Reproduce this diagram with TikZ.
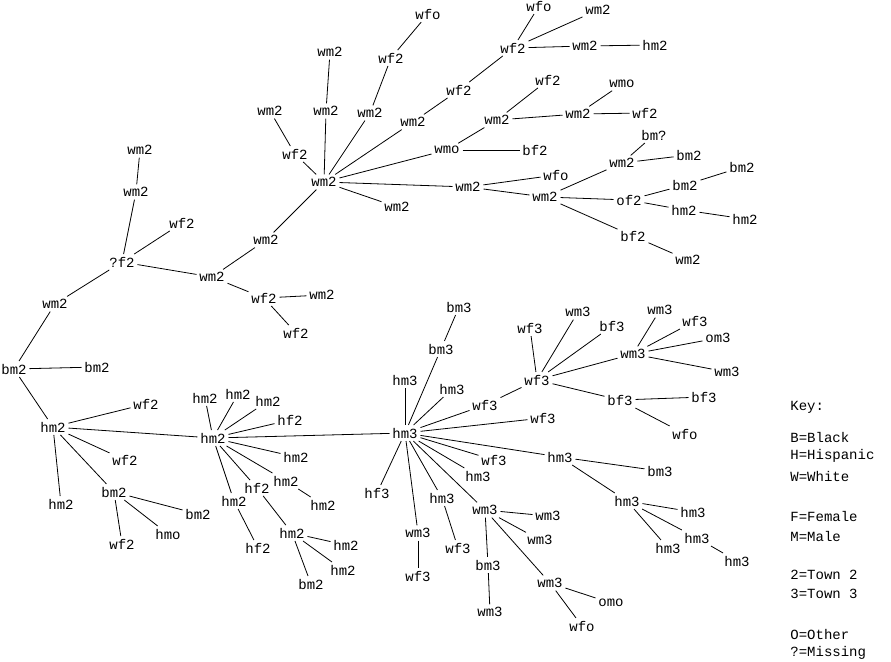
\documentclass[tikz,border=0pt]{standalone}
\usepackage{fontspec}
\setmonofont{Liberation Mono}
\begin{document}
\begin{tikzpicture}[x=1pt,y=-1pt,
  lab/.style={font=\ttfamily\fontsize{14}{14}\selectfont,inner sep=2.5pt},
  keyt/.style={font=\ttfamily\fontsize{14}{14}\selectfont,inner sep=0pt,anchor=west},
  every path/.style={line width=0.8pt}]
\useasboundingbox (0,0) rectangle (891,661);
\begin{scope}[every node/.style={lab}]
% top tree
\node (A1) at (428,14) {wfo};
\node (A2) at (391,58) {wf2};
\node (A3) at (330,52) {wm2};
\node (A4) at (326,111) {wm2};
\node (A5) at (370,113) {wm2};
\node (A6) at (270,111) {wm2};
\node (A7) at (295,154) {wf2};
\node (R) at (324,182) {wm2};
\node (A8) at (397,207) {wm2};
\node (A9) at (413,122) {wm2};
\node (A10) at (459,90) {wf2};
\node (A11) at (513,48) {wf2};
\node (A12) at (539,6) {wfo};
\node (A13) at (598,10) {wm2};
\node (A14) at (585,46) {wm2};
\node (A15) at (655,45) {hm2};
\node (A16) at (447,150) {wmo};
\node (A17) at (497,120) {wm2};
\node (A18) at (548,80) {wf2};
\node (A19) at (578,114) {wm2};
\node (A20) at (622,84) {wmo};
\node (A21) at (645,113) {wf2};
\node (A22) at (535,150) {bf2};
\node (A23) at (468,187) {wm2};
\node (A24) at (556,175) {wfo};
\node (A25) at (545,197) {wm2};
\node (A26) at (622,163) {wm2};
\node (A27) at (654,135) {bm?};
\node (A28) at (689,155) {bm2};
\node (A29) at (629,200) {of2};
\node (A30) at (685,185) {bm2};
\node (A31) at (742,167) {bm2};
\node (A32) at (684,210) {hm2};
\node (A33) at (745,219) {hm2};
\node (A34) at (633,236) {bf2};
\node (A35) at (688,260) {wm2};
\node (B1) at (266,240) {wm2};
\node (B2) at (212,277) {wm2};
\node (B3) at (264,298) {wf2};
\node (B4) at (322,295) {wm2};
\node (B5) at (296,333) {wf2};
\node (C) at (122,262) {?f2};
\node (C1) at (136,192) {wm2};
\node (C2) at (140,150) {wm2};
\node (C3) at (182,223) {wf2};
\node (C4) at (55,304) {wm2};
\node (D) at (14,369) {bm2};
\node (D1) at (97,367) {bm2};
\node (E) at (53,427) {hm2};
\node (E1) at (146,404) {wf2};
\node (E2) at (125,460) {wf2};
\node (E3) at (61,504) {hm2};
\node (E4) at (114,492) {bm2};
\node (E5) at (198,514) {bm2};
\node (E6) at (168,534) {hmo};
\node (E7) at (122,544) {wf2};
\node (F) at (213,438) {hm2};
\node (F1) at (205,398) {hm2};
\node (F2) at (238,394) {hm2};
\node (F3) at (268,401) {hm2};
\node (F4) at (290,420) {hf2};
\node (F5) at (296,457) {hm2};
\node (F6) at (286,481) {hm2};
\node (F7) at (323,505) {hm2};
\node (F8) at (257,488) {hf2};
\node (F9) at (292,533) {hm2};
\node (F10) at (346,545) {hm2};
\node (F11) at (343,570) {hm2};
\node (F12) at (311,584) {bm2};
\node (F13) at (234,501) {hm2};
\node (F14) at (258,548) {hf2};
\node (G) at (405,433) {hm3};
\node (G1) at (405,380) {hm3};
\node (G2) at (441,349) {bm3};
\node (G3) at (459,307) {bm3};
\node (G4) at (452,389) {hm3};
\node (G5) at (485,405) {wf3};
\node (G6) at (543,418) {wf3};
\node (G7) at (494,460) {wf3};
\node (G8) at (478,476) {hm3};
\node (G9) at (377,493) {hf3};
\node (G10) at (442,498) {hm3};
\node (G11) at (458,548) {wf3};
\node (G12) at (418,533) {wm3};
\node (G13) at (418,576) {wf3};
\node (G14) at (485,510) {wm3};
\node (G15) at (548,516) {wm3};
\node (G16) at (540,540) {wm3};
\node (G17) at (488,565) {bm3};
\node (G18) at (490,612) {wm3};
\node (G19) at (550,583) {wm3};
\node (G20) at (611,603) {omo};
\node (G21) at (582,626) {wfo};
\node (G22) at (560,457) {hm3};
\node (G23) at (660,471) {bm3};
\node (G24) at (627,501) {hm3};
\node (G25) at (693,512) {hm3};
\node (G26) at (668,548) {hm3};
\node (G27) at (697,538) {hm3};
\node (G28) at (737,561) {hm3};
\node (H) at (537,380) {wf3};
\node (H1) at (530,328) {wf3};
\node (H2) at (578,312) {wm3};
\node (H3) at (612,326) {bf3};
\node (H4) at (633,354) {wm3};
\node (H5) at (660,310) {wm3};
\node (H6) at (695,321) {wf3};
\node (H7) at (718,338) {om3};
\node (H8) at (727,372) {wm3};
\node (H9) at (620,400) {bf3};
\node (H10) at (704,397) {bf3};
\node (H11) at (685,434) {wfo};
\end{scope}
\foreach \a/\b in {R/A4,A4/A3,R/A5,A5/A2,A2/A1,R/A7,A7/A6,R/A9,A9/A10,A10/A11,A11/A12,A11/A13,A11/A14,A14/A15,
R/A16,A16/A17,A17/A18,A17/A19,A19/A20,A19/A21,A16/A22,R/A23,A23/A24,A23/A25,A25/A26,A26/A27,A26/A28,A25/A29,
A29/A30,A30/A31,A29/A32,A32/A33,A25/A34,A34/A35,R/A8,R/B1,B1/B2,B2/C,B2/B3,B3/B4,B3/B5,C/C1,C1/C2,C/C3,C/C4,C4/D,
D/D1,D/E,E/E1,E/E2,E/E3,E/E4,E4/E5,E4/E6,E4/E7,E/F,F/F1,F/F2,F/F3,F/F4,F/F5,F/F6,F6/F7,F/F8,F8/F9,F9/F10,F9/F11,F9/F12,
F/F13,F13/F14,F/G,G/G1,G/G2,G2/G3,G/G4,G/G5,G5/H,G/G6,G/G7,G/G8,G/G9,G/G10,G10/G11,G/G12,G12/G13,G/G14,G14/G15,G14/G16,
G14/G17,G17/G18,G14/G19,G19/G20,G19/G21,G/G22,G22/G23,G22/G24,G24/G25,G24/G26,G24/G27,G27/G28,
H/H1,H/H2,H/H3,H/H4,H4/H5,H4/H6,H4/H7,H4/H8,H/H9,H9/H10,H9/H11}
  \draw (\a) -- (\b);
\node[keyt] (k0) at (790,407) {Key:};
\node[keyt] (k1) at (790,437) {B=Black};
\node[keyt] (k2) at (790,456) {H=Hispanic};
\node[keyt] (k3) at (790,476) {W=White};
\node[keyt] (k4) at (790,516) {F=Female};
\node[keyt] (k5) at (790,536) {M=Male};
\node[keyt] (k6) at (790,575) {2=Town 2};
\node[keyt] (k7) at (790,594) {3=Town 3};
\node[keyt] (k8) at (790,634) {O=Other};
\node[keyt] (k9) at (790,653) {?=Missing};
\end{tikzpicture}
\end{document}
